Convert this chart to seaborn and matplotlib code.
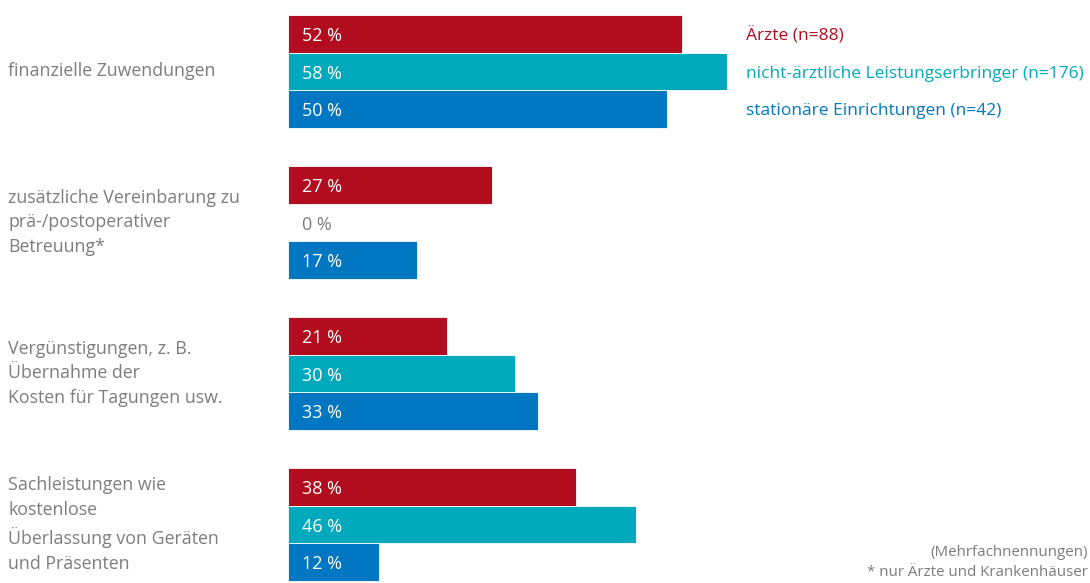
import matplotlib
matplotlib.use("Agg")
import matplotlib.pyplot as plt
import seaborn as sns
import pandas as pd

categories = [
    "finanzielle Zuwendungen",
    "zusätzliche Vereinbarung zu\nprä-/postoperativer\nBetreuung*",
    "Vergünstigungen, z. B.\nÜbernahme der\nKosten für Tagungen usw.",
    "Sachleistungen wie\nkostenlose\nÜberlassung von Geräten\nund Präsenten",
]
series = [
    "Ärzte (n=88)",
    "nicht-ärztliche Leistungserbringer (n=176)",
    "stationäre Einrichtungen (n=42)",
]
aerzte = [52, 27, 21, 38]
nicht_aerztlich = [58, 0, 30, 46]
stationaer = [50, 17, 33, 12]
colors = ["#B20D1E", "#00A9BB", "#0077C0"]

sns.set_theme(style="white")
plt.rcParams["font.family"] = ["Open Sans", "DejaVu Sans"]

rows = []
for name, vals in zip(series, [aerzte, nicht_aerztlich, stationaer]):
    for cat, v in zip(categories, vals):
        rows.append({"category": cat, "series": name, "value": v})
df = pd.DataFrame(rows)

fig = plt.figure(figsize=(10.9, 5.83), dpi=100)
ax = fig.add_axes([0, 0, 1, 1])

sns.barplot(data=df, y="category", x="value", hue="series", orient="h",
            palette=colors, width=0.75, dodge=True, legend=False, ax=ax,
            saturation=1, edgecolor="white", linewidth=0.6)

# pixel mapping: 0 % at 288 px, 7.57 px per percent
px_per = 7.57
ax.set_xlim(-288 / px_per, (1090 - 288) / px_per)
ax.set_ylim((583 - 71.5) / 151, -71.5 / 151)
ax.axis("off")

grey = "#7d7d7d"
for ci, cont in enumerate(ax.containers):
    for bar, v in zip(cont.patches, df[df["series"] == series[ci]]["value"]):
        yc = bar.get_y() + bar.get_height() / 2
        ax.annotate(f"{v} %", xy=(0, yc), xytext=(10, -1.5), textcoords="offset points",
                    va="center", ha="left", fontsize=13,
                    color="white" if v > 0 else grey)
    # legend text aligned with first group's bars
    first = cont.patches[0]
    ax.annotate(series[ci], xy=(746 / 1090, first.get_y() + first.get_height() / 2),
                xycoords=ax.get_yaxis_transform(), xytext=(0, -1.5),
                textcoords="offset points", color=colors[ci],
                va="center", ha="left", fontsize=12.5, fontweight="medium")

for i, cat in enumerate(categories):
    ax.text(8 / 1090, i, cat, transform=ax.get_yaxis_transform(), color=grey,
            va="center", ha="left", fontsize=12.8, linespacing=1.48)

fig.text(1088 / 1090, 1 - 552 / 583, "(Mehrfachnennungen)", ha="right", va="center",
         color=grey, fontsize=10.9)
fig.text(1088 / 1090, 1 - 573 / 583, "* nur Ärzte und Krankenhäuser", ha="right",
         va="center", color=grey, fontsize=10.9)

fig.savefig("out.png", dpi=100)
